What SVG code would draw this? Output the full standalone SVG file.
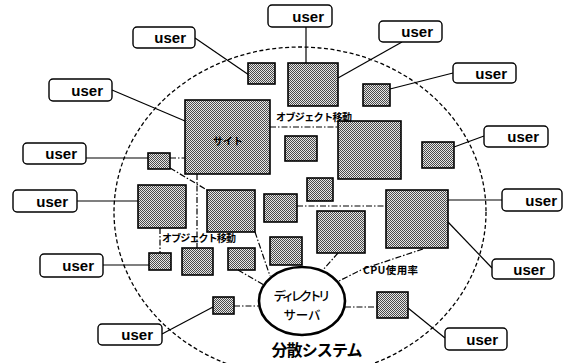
<svg xmlns="http://www.w3.org/2000/svg" width="563" height="363" viewBox="0 0 563 363">
<defs>
<pattern id="dots" patternUnits="userSpaceOnUse" width="2" height="2">
<rect width="2" height="2" fill="#e6e6e6"/>
<rect x="0" y="0" width="1" height="1" fill="#4a4a4a"/>
<rect x="1" y="1" width="1" height="1" fill="#4a4a4a"/>
</pattern>
</defs>
<style>
.bg{fill:#fff}
.sq{fill:url(#dots);stroke:#000;stroke-width:1.6}
.ub{fill:#fff;stroke:#000;stroke-width:1.4}
.ut{font-family:"Liberation Sans",Arial,sans-serif;font-size:15px;font-weight:bold;fill:#000;text-anchor:end}
.jp{font-family:"Noto Sans CJK JP","Noto Sans",sans-serif;font-weight:bold;fill:#000}
.solid{fill:none;stroke:#000;stroke-width:1.2}
.dd{fill:none;stroke:#000;stroke-width:1.2;stroke-dasharray:6 2 1.5 2}
.sys{fill:none;stroke:#000;stroke-width:1.3;stroke-dasharray:4 2.5}
</style>
<rect class="bg" width="563" height="363"/>
<ellipse class="sys" cx="300" cy="212" rx="186" ry="165"/>

<g id="connectors">
<line class="solid" x1="195" y1="38" x2="249" y2="75"/>
<line class="solid" x1="306" y1="27" x2="306" y2="63"/>
<line class="solid" x1="402" y1="42" x2="338" y2="78"/>
<line class="solid" x1="453" y1="73" x2="390" y2="89"/>
<line class="solid" x1="484" y1="136" x2="454" y2="147"/>
<line class="solid" x1="112" y1="90" x2="185" y2="121"/>
<line class="solid" x1="86" y1="158" x2="148" y2="158"/>
<line class="solid" x1="77" y1="201" x2="138" y2="201"/>
<line class="solid" x1="103" y1="265" x2="149" y2="265"/>
<line class="solid" x1="162" y1="334" x2="213" y2="307"/>
<line class="solid" x1="502" y1="200" x2="448" y2="200"/>
<line class="solid" x1="492" y1="268" x2="448" y2="222"/>
<line class="solid" x1="445" y1="338" x2="408" y2="308"/>
<line class="dd" x1="170" y1="158" x2="185" y2="158"/>
<line class="dd" x1="170" y1="168" x2="207" y2="190"/>
<line class="dd" x1="270" y1="127" x2="338" y2="127"/>
<line class="dd" x1="197" y1="174" x2="197" y2="248"/>
<line class="dd" x1="160" y1="228" x2="160" y2="253"/>
<line class="dd" x1="297" y1="206" x2="386" y2="206"/>
<line class="dd" x1="255" y1="232" x2="270" y2="276"/>
<line class="dd" x1="238" y1="270" x2="264" y2="285"/>
<line class="dd" x1="338" y1="253" x2="322" y2="271"/>
<polyline class="dd" points="423,249 363,269 335,283"/>
<line class="dd" x1="234" y1="306" x2="259" y2="306"/>
<line class="dd" x1="345" y1="307" x2="377" y2="307"/>
</g>

<g id="sites">
<rect id="sqA" class="sq" x="248" y="63" width="27" height="21"/>
<rect id="sqB" class="sq" x="288" y="63" width="50" height="43"/>
<rect id="sqC" class="sq" x="363" y="84" width="27" height="22"/>
<g id="site"><rect class="sq" x="185" y="100" width="85" height="74"/>
<text class="jp" x="228" y="145" font-size="10" text-anchor="middle" textLength="30">サイト</text></g>
<rect id="sqE" class="sq" x="338" y="121" width="63" height="58"/>
<rect id="sqF" class="sq" x="422" y="142" width="32" height="26"/>
<rect id="sqG" class="sq" x="285" y="136" width="32" height="25"/>
<rect id="sqH" class="sq" x="148" y="153" width="22" height="16"/>
<rect id="sqI" class="sq" x="307" y="178" width="26" height="23"/>
<rect id="sqJ" class="sq" x="138" y="185" width="48" height="43"/>
<rect id="sqK" class="sq" x="207" y="190" width="48" height="42"/>
<rect id="sqL" class="sq" x="264" y="194" width="33" height="28"/>
<rect id="sqM" class="sq" x="386" y="190" width="62" height="58"/>
<rect id="sqN" class="sq" x="317" y="211" width="48" height="42"/>
<rect id="sqO" class="sq" x="149" y="253" width="22" height="17"/>
<rect id="sqP" class="sq" x="182" y="248" width="31" height="27"/>
<rect id="sqQ" class="sq" x="228" y="248" width="27" height="22"/>
<rect id="sqR" class="sq" x="270" y="237" width="32" height="28"/>
<rect id="sqS" class="sq" x="213" y="297" width="21" height="17"/>
<rect id="sqT" class="sq" x="377" y="292" width="31" height="26"/>
</g>

<g id="labels">
<text class="jp" x="276" y="121" font-size="10" textLength="76">オブジェクト移動</text>
<text class="jp" x="162" y="242" font-size="10" textLength="74">オブジェクト移動</text>
<text class="jp" x="363" y="274" font-size="10.5" textLength="55">CPU使用率</text>
</g>

<g id="directory">
<ellipse cx="302" cy="301" rx="43" ry="34" fill="#fff" stroke="#000" stroke-width="2.6"/>
<text class="jp" x="302" y="301" font-size="12.5" text-anchor="middle" textLength="57" style="font-weight:500">ディレクトリ</text>
<text class="jp" x="302" y="320" font-size="12.5" text-anchor="middle" textLength="37" style="font-weight:500">サーバ</text>
</g>
<text id="system-label" class="jp" x="317" y="356" font-size="16" text-anchor="middle" textLength="91">分散システム</text>

<g id="user1"><rect class="ub" x="268" y="5" width="64" height="22" rx="4"/><text class="ut" x="324" y="22">user</text></g>
<g id="user2"><rect class="ub" x="379" y="21" width="63" height="21" rx="4"/><text class="ut" x="433" y="37">user</text></g>
<g id="user3"><rect class="ub" x="453" y="63" width="63" height="20" rx="4"/><text class="ut" x="507" y="79">user</text></g>
<g id="user4"><rect class="ub" x="484" y="126" width="64" height="21" rx="4"/><text class="ut" x="539" y="142">user</text></g>
<g id="user5"><rect class="ub" x="502" y="189" width="60" height="22" rx="4"/><text class="ut" x="557" y="206">user</text></g>
<g id="user6"><rect class="ub" x="492" y="259" width="62" height="20" rx="4"/><text class="ut" x="545" y="275">user</text></g>
<g id="user7"><rect class="ub" x="445" y="328" width="62" height="22" rx="4"/><text class="ut" x="498" y="345">user</text></g>
<g id="user8"><rect class="ub" x="98" y="324" width="64" height="21" rx="4"/><text class="ut" x="153" y="340">user</text></g>
<g id="user9"><rect class="ub" x="40" y="254" width="63" height="23" rx="4"/><text class="ut" x="94" y="271">user</text></g>
<g id="user10"><rect class="ub" x="13" y="190" width="64" height="22" rx="4"/><text class="ut" x="68" y="207">user</text></g>
<g id="user11"><rect class="ub" x="23" y="143" width="63" height="21" rx="4"/><text class="ut" x="77" y="159">user</text></g>
<g id="user12"><rect class="ub" x="49" y="79" width="63" height="22" rx="4"/><text class="ut" x="103" y="96">user</text></g>
<g id="user13"><rect class="ub" x="133" y="27" width="62" height="21" rx="4"/><text class="ut" x="186" y="43">user</text></g>
</svg>
